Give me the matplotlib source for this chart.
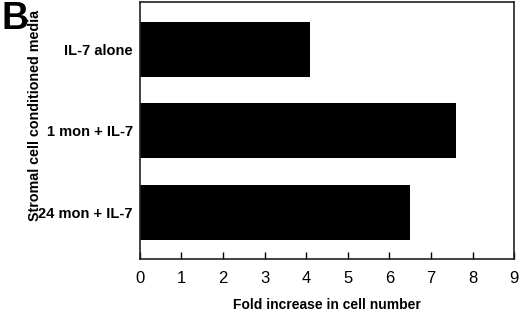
import matplotlib
matplotlib.use("Agg")
import matplotlib.pyplot as plt

categories = ["24 mon + IL-7", "1 mon + IL-7", "IL-7 alone"]
fold_increase = [6.5, 7.6, 4.1]
x_ticks = list(range(0, 10))

plt.rcParams["font.family"] = ["Liberation Sans", "DejaVu Sans"]
plt.rcParams["font.weight"] = "bold"

fig = plt.figure(figsize=(5.2, 3.12), dpi=100)
ax = fig.add_axes([0.269, 0.170, 0.720, 0.824])

y = list(range(len(categories)))
ax.barh(y, fold_increase, height=0.675, color="black", zorder=2)

ax.set_xlim(0, 9)
ax.set_ylim(-0.57, 2.58)
ax.set_xticks(x_ticks)
ax.set_xticklabels([str(v) for v in x_ticks], fontsize=12, fontweight="normal")
ax.set_yticks(y)
ax.set_yticklabels(categories, fontsize=10.5, fontweight="bold")

ax.tick_params(axis="x", direction="in", length=5, width=1, pad=9, top=False)
ax.tick_params(axis="y", length=0, pad=5)

for spine in ax.spines.values():
    spine.set_linewidth(1.2)
    spine.set_color("#222222")

ax.set_xlabel("Fold increase in cell number", fontsize=10, fontweight="bold", labelpad=8.5)
fig.text(0.067, 0.631, "Stromal cell conditioned media", rotation=90,
         ha="center", va="center", fontsize=10.3, fontweight="bold")
fig.text(0.002, 0.996, "B", ha="left", va="top", fontsize=27, fontweight="bold")

fig.savefig("out.png", dpi=100, facecolor="white")
